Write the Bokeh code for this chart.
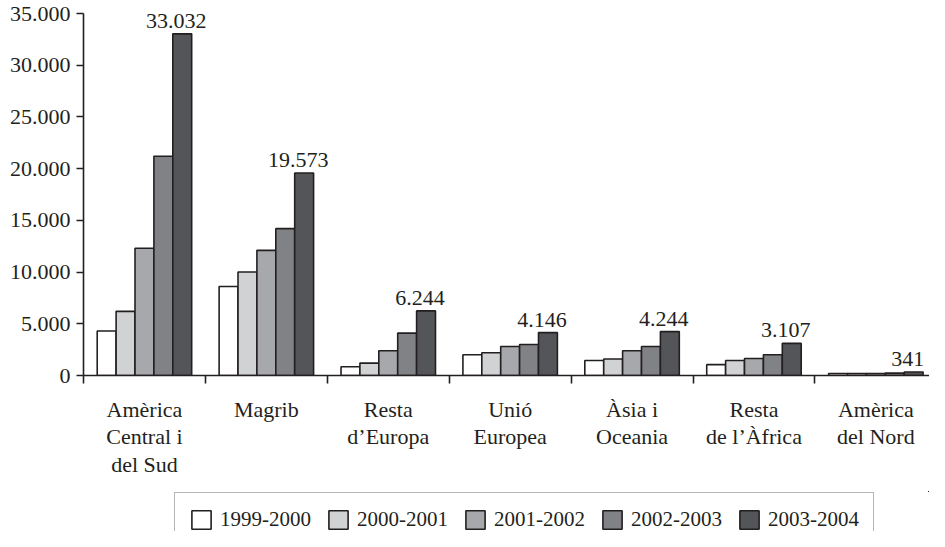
from bokeh.plotting import figure
from bokeh.layouts import column
from bokeh.models import (ColumnDataSource, FixedTicker, Legend, LegendItem,
                          LabelSet, Range1d)
from bokeh.core.properties import value
from bokeh.transform import dodge
from bokeh.embed import file_html
from bokeh.resources import INLINE

# ---- data -------------------------------------------------------------
regions = ["Amèrica\nCentral i\ndel Sud", "Magrib", "Resta\nd’Europa",
           "Unió\nEuropea", "Àsia i\nOceania", "Resta\nde l’Àfrica",
           "Amèrica\ndel Nord"]
years = ["1999-2000", "2000-2001", "2001-2002", "2002-2003", "2003-2004"]
v_1999_2000 = [4300, 8600, 850, 2000, 1450, 1050, 200]
v_2000_2001 = [6200, 10000, 1200, 2200, 1600, 1450, 200]
v_2001_2002 = [12300, 12100, 2400, 2800, 2400, 1650, 200]
v_2002_2003 = [21200, 14200, 4100, 3000, 2800, 2000, 230]
v_2003_2004 = [33032, 19573, 6244, 4146, 4244, 3107, 341]
y_ticks = [0, 5000, 10000, 15000, 20000, 25000, 30000, 35000]

series = [v_1999_2000, v_2000_2001, v_2001_2002, v_2002_2003, v_2003_2004]
colors = ["#ffffff", "#d1d2d4", "#a7a8ab", "#818285", "#545558"]

def fmt(v):
    return f"{v:,}".replace(",", ".")

FONT = "'Liberation Serif', 'Times New Roman', 'DejaVu Serif', serif"
INK = "#231f20"
idx = list(range(len(regions)))
data = {"x": idx}
for y, s in zip(years, series):
    data[y] = s
data["label"] = [fmt(v) for v in v_2003_2004]
src = ColumnDataSource(data)

p = figure(width=929, height=491, output_backend="svg", toolbar_location=None,
           x_range=Range1d(-0.5, 6.44), y_range=Range1d(0, 35000),
           min_border_left=83, min_border_right=0, min_border_top=13,
           min_border_bottom=116)
p.outline_line_color = None
p.xgrid.grid_line_color = None
p.ygrid.grid_line_color = None
p.background_fill_color = "white"
p.border_fill_color = "white"

bw = 0.155
for k, (y, c) in enumerate(zip(years, colors)):
    p.vbar(x=dodge("x", (k - 2) * bw, range=p.x_range), top=y, width=bw,
           source=src, fill_color=c, line_color=INK, line_width=1.6)

labels = LabelSet(x=dodge("x", 2 * bw, range=p.x_range), y=years[-1],
                  text="label", source=src, x_offset=-6, y_offset=6,
                  text_align="center", text_baseline="alphabetic",
                  text_font=value(FONT), text_font_size=value("22px"),
                  text_color=INK)
p.add_layout(labels)

# y axis
ya = p.yaxis[0]
ya.ticker = FixedTicker(ticks=y_ticks, minor_ticks=[])
ya.major_label_overrides = {t: fmt(t) for t in y_ticks}
ya.major_label_text_font = FONT
ya.major_label_text_font_size = "22px"
ya.major_label_text_color = INK
ya.major_tick_out = 7
ya.major_tick_in = 0
ya.minor_tick_out = 0
ya.minor_tick_in = 0
ya.major_label_standoff = 6
ya.axis_line_width = 1.6
ya.axis_line_color = INK
ya.major_tick_line_width = 1.6
ya.major_tick_line_color = INK

# x axis: labels at group centres, ticks at group boundaries
xa = p.xaxis[0]
xa.ticker = FixedTicker(ticks=idx, minor_ticks=[i - 0.5 for i in range(len(regions) + 1)])
xa.major_label_overrides = {i: r for i, r in zip(idx, regions)}
xa.major_label_text_font = FONT
xa.major_label_text_font_size = "22px"
xa.major_label_text_color = INK
xa.major_label_text_line_height = 1.1
xa.major_tick_out = 0
xa.major_tick_in = 0
xa.minor_tick_out = 8
xa.minor_tick_in = 0
xa.minor_tick_line_width = 1.6
xa.minor_tick_line_color = INK
xa.major_label_standoff = 13
xa.axis_line_width = 1.6
xa.axis_line_color = INK

# ---- legend strip (separate small figure, bottom cut like the original)
leg = figure(width=929, height=40, output_backend="svg", toolbar_location=None,
             x_range=Range1d(-100, -99), y_range=Range1d(-100, -99),
             x_axis_type=None, y_axis_type=None,
             min_border_left=0, min_border_right=0, min_border_top=0,
             min_border_bottom=0)
leg.outline_line_color = None
leg.xgrid.grid_line_color = None
leg.ygrid.grid_line_color = None
items = []
for y, c in zip(years, colors):
    r = leg.vbar(x="x", top=y, width=bw, source=src,
                 fill_color=c, line_color=INK, line_width=1.6)
    items.append(LegendItem(label=y, renderers=[r]))

legend = Legend(items=items, orientation="horizontal", location=(91, -16),
                glyph_width=24, glyph_height=23, label_height=24,
                label_standoff=7, spacing=15, padding=14, margin=0,
                label_text_font=FONT, label_text_font_size="21px",
                label_text_color=INK,
                border_line_color="#6d6e71", border_line_width=1.2,
                background_fill_color="white", background_fill_alpha=1)
leg.add_layout(legend, "center")

layout = column(p, leg, spacing=0)
open("out.html", "w").write(file_html(layout, INLINE))
